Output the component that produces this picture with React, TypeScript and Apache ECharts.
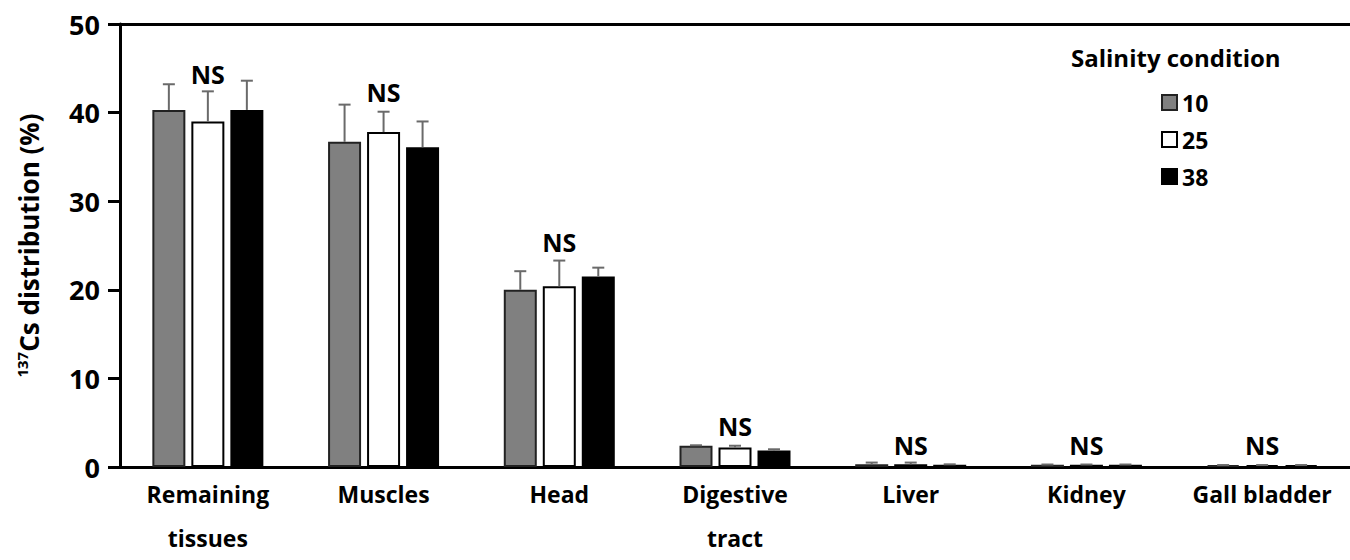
import React, { useEffect, useRef } from "react";
import * as echarts from "echarts";

const categories = ["Remaining\ntissues", "Muscles", "Head", "Digestive\ntract", "Liver", "Kidney", "Gall bladder"];
const seriesNames = ["10", "25", "38"];
const values10 = [40.3, 36.7, 20.0, 2.4, 0.3, 0.25, 0.2];
const values25 = [39.0, 37.8, 20.4, 2.2, 0.3, 0.25, 0.2];
const values38 = [40.3, 36.1, 21.5, 1.85, 0.25, 0.25, 0.2];
const errors10 = [2.9, 4.2, 2.1, 0.05, 0.2, 0.03, 0.02];
const errors25 = [3.4, 2.3, 2.9, 0.2, 0.2, 0.03, 0.02];
const errors38 = [3.3, 2.9, 1.0, 0.15, 0.05, 0.03, 0.02];
const nsLabels = ["NS", "NS", "NS", "NS", "NS", "NS", "NS"];
const nsLevels = [44.4, 42.3, 25.4, 4.6, 2.5, 2.5, 2.5];
const yTicks = [0, 10, 20, 30, 40, 50];

const FONT = "'Open Sans', 'Noto Sans', sans-serif";
const BAR_W = 33;
const BAR_GAP_PX = 6;

const colors = ["#808080", "#ffffff", "#000000"];
const borders = ["#222222", "#000000", "#000000"];

export default function App() {
  const ref = useRef<HTMLDivElement>(null);
  useEffect(() => {
    if (!ref.current) return;
    const chart = echarts.init(ref.current, undefined, { renderer: "svg" });
    const vals = [values10, values25, values38];
    const errs = [errors10, errors25, errors38];

    const barSeries = vals.map((v, i) => ({
      name: seriesNames[i],
      type: "bar",
      data: v,
      barWidth: BAR_W,
      barGap: `${(BAR_GAP_PX / BAR_W) * 100}%`,
      itemStyle: { color: colors[i], borderColor: borders[i], borderWidth: 2 },
      z: 2,
    }));

    const errSeries = vals.map((v, i) => ({
      name: "err" + seriesNames[i],
      type: "custom",
      z: 3,
      data: v.map((val, k) => [k, val, val + errs[i][k]]),
      encode: { x: 0, y: [1, 2] },
      renderItem: (params: any, api: any) => {
        const c = api.value(0);
        const base = api.coord([c, api.value(1)]);
        const top = api.coord([c, api.value(2)]);
        const offset = (i - 1) * (BAR_W + BAR_GAP_PX);
        const x = base[0] + offset;
        const style = { stroke: "#6a6a6a", lineWidth: 2 };
        return {
          type: "group",
          children: [
            { type: "line", shape: { x1: x, y1: base[1], x2: x, y2: top[1] }, style },
            { type: "line", shape: { x1: x - 6, y1: top[1], x2: x + 6, y2: top[1] }, style },
          ],
        };
      },
    }));

    const nsSeries = {
      name: "NS",
      type: "custom",
      z: 4,
      data: nsLevels.map((y, k) => [k, y]),
      encode: { x: 0, y: 1 },
      renderItem: (params: any, api: any) => {
        const p = api.coord([api.value(0), api.value(1)]);
        return {
          type: "text",
          style: {
            text: nsLabels[params.dataIndex],
            x: p[0],
            y: p[1],
            align: "center",
            verticalAlign: "middle",
            fill: "#000",
            font: `bold 25px ${FONT}`,
          },
        };
      },
    };

    const option: any = {
      animation: false,
      backgroundColor: "#fff",
      textStyle: { fontFamily: FONT },
      title: {
        text: "Salinity condition",
        left: 1066,
        top: 40,
        textStyle: { fontFamily: FONT, fontWeight: "bold", fontSize: 24, color: "#000" },
      },
      legend: {
        data: seriesNames,
        orient: "vertical",
        left: 1156,
        top: 86,
        itemWidth: 15,
        itemHeight: 15,
        itemGap: 14,
        icon: "rect",
        textStyle: { fontFamily: FONT, fontWeight: "bold", fontSize: 23, color: "#000" },
      },
      grid: { left: 120, top: 24, width: 7 * 177.5, height: 447.5 },
      xAxis: [
        {
          type: "category",
          data: categories,
          axisLine: { lineStyle: { color: "#000", width: 3 } },
          axisTick: { show: false },
          axisLabel: {
            interval: 0,
            color: "#000",
            fontFamily: FONT,
            fontWeight: "bold",
            fontSize: 23,
            lineHeight: 44,
            margin: 5,
          },
        },
        {
          type: "category",
          data: categories,
          position: "top",
          axisLine: { lineStyle: { color: "#000", width: 3 } },
          axisTick: { show: false },
          axisLabel: { show: false },
        },
      ],
      yAxis: {
        type: "value",
        min: yTicks[0],
        max: yTicks[yTicks.length - 1],
        interval: 10,
        axisLine: { show: true, lineStyle: { color: "#000", width: 3 } },
        axisTick: { show: true, length: 12, lineStyle: { color: "#000", width: 3 } },
        splitLine: { show: false },
        axisLabel: {
          color: "#000",
          fontFamily: FONT,
          fontWeight: "bold",
          fontSize: 27,
          margin: 20,
        },
        name: "{sup|137}{main|Cs distribution (%)}",
        nameLocation: "middle",
        nameRotate: 90,
        nameGap: 76,
        nameTextStyle: {
          rich: {
            sup: { fontFamily: FONT, fontWeight: "bold", fontSize: 15, color: "#000", verticalAlign: "top", lineHeight: 30 },
            main: { fontFamily: FONT, fontWeight: "bold", fontSize: 26, color: "#000", lineHeight: 30 },
          },
        },
      },
      series: [...barSeries, ...errSeries, nsSeries],
    };
    chart.setOption(option);
    return () => chart.dispose();
  }, []);
  return (
    <div
      ref={ref}
      style={{ position: "absolute", left: 0, top: 0, width: 1350, height: 560, background: "#fff" }}
    />
  );
}
